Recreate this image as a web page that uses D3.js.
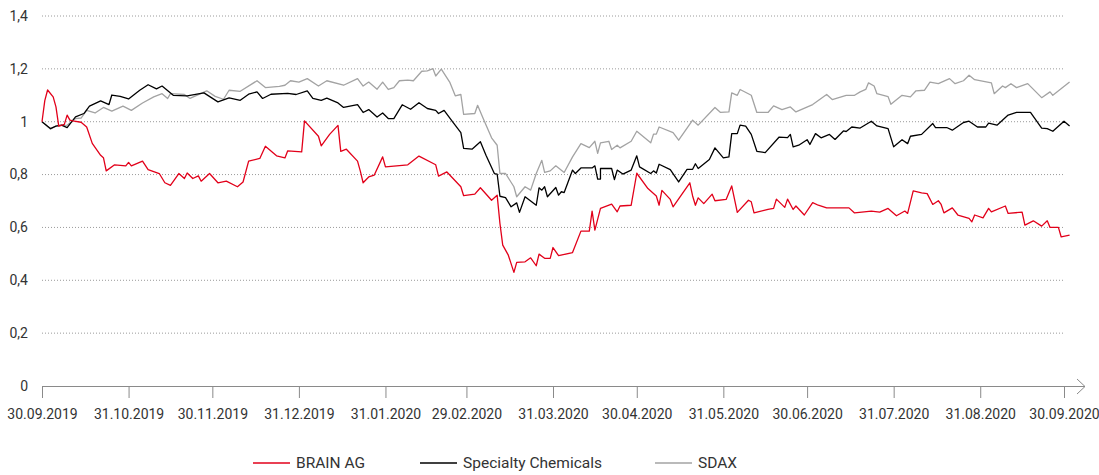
<!DOCTYPE html>
<html>
<head>
<meta charset="utf-8">
<script src="https://cdn.jsdelivr.net/npm/d3@7"></script>
<style>
  body { margin: 0; background: #fff; }
  svg { display: block; font-family: Roboto, "Noto Sans", sans-serif; }
</style>
</head>
<body>
<div id="chart"></div>
<script>
// values: [days since 30.09.2019, index value]
const brainAG = [
  [0,1.00],[1,1.08],[2,1.12],[4,1.094],[5,1.056],[6,0.983],[8,0.99],[9,1.025],[10,1.006],[11,1.003],
  [14,0.998],[16,0.98],[18,0.918],[21,0.873],[22,0.864],[23,0.814],[26,0.837],[30,0.833],[31,0.846],
  [32,0.833],[36,0.851],[38,0.819],[42,0.804],[44,0.769],[46,0.759],[49,0.804],[51,0.785],[52,0.806],
  [54,0.785],[56,0.795],[57,0.775],[60,0.804],[63,0.769],[66,0.775],[70,0.754],[72,0.772],[74,0.851],
  [78,0.861],[80,0.907],[84,0.871],[87,0.863],[88,0.890],[93,0.886],[94,1.003],[99,0.945],[100,0.909],
  [103,0.952],[106,0.986],[107,0.888],[109,0.896],[113,0.851],[114,0.813],[115,0.769],[117,0.791],
  [119,0.798],[122,0.867],[123,0.829],[131,0.837],[135,0.870],[141,0.837],[142,0.794],[145,0.810],
  [150,0.754],[151,0.720],[155,0.726],[157,0.750],[161,0.703],[163,0.722],[164,0.615],[165,0.533],
  [167,0.495],[169,0.430],[170,0.468],[173,0.470],[175,0.485],[177,0.455],[178,0.499],[180,0.483],
  [182,0.483],[183,0.524],[185,0.493],[190,0.505],[193,0.586],[196,0.586],[197,0.662],[198,0.590],
  [200,0.672],[204,0.688],[206,0.659],[207,0.681],[211,0.684],[213,0.805],[217,0.747],[220,0.719],
  [221,0.684],[222,0.740],[225,0.706],[226,0.678],[232,0.769],[233,0.719],[234,0.684],[235,0.712],
  [237,0.690],[240,0.726],[241,0.701],[245,0.706],[247,0.757],[249,0.657],[253,0.703],[254,0.697],
  [255,0.655],[260,0.668],[262,0.672],[263,0.707],[266,0.676],[267,0.707],[269,0.668],[270,0.681],
  [273,0.647],[276,0.694],[278,0.684],[281,0.674],[289,0.674],[291,0.655],[297,0.662],[300,0.658],
  [303,0.672],[306,0.644],[309,0.662],[310,0.653],[312,0.738],[315,0.731],[317,0.728],[319,0.687],
  [321,0.701],[322,0.687],[323,0.655],[326,0.674],[328,0.647],[332,0.634],[333,0.621],[334,0.647],
  [337,0.636],[339,0.672],[340,0.659],[345,0.681],[346,0.653],[351,0.658],[352,0.609],[355,0.625],
  [358,0.605],[360,0.625],[361,0.600],[364,0.600],[365,0.564],[368,0.571]
];

const specialtyChem = [
  [0,1.00],[3,0.974],[5,0.983],[7,0.987],[9,0.978],[12,1.018],[15,1.031],[17,1.059],[21,1.079],
  [24,1.065],[25,1.101],[28,1.096],[31,1.086],[35,1.119],[38,1.140],[41,1.124],[43,1.135],[47,1.100],
  [52,1.098],[58,1.109],[63,1.075],[67,1.090],[71,1.081],[74,1.104],[77,1.113],[79,1.088],[82,1.104],
  [88,1.107],[91,1.103],[95,1.117],[97,1.088],[100,1.081],[102,1.089],[106,1.071],[108,1.054],
  [113,1.065],[115,1.035],[117,1.046],[120,1.018],[122,1.033],[124,1.012],[126,1.012],[129,1.064],
  [132,1.047],[135,1.072],[138,1.050],[141,1.043],[142,1.031],[144,1.043],[147,1.000],[150,0.959],
  [151,0.899],[154,0.896],[157,0.924],[159,0.873],[162,0.804],[163,0.802],[164,0.718],[166,0.713],
  [168,0.678],[170,0.693],[171,0.657],[173,0.716],[177,0.684],[178,0.750],[179,0.741],[180,0.754],
  [181,0.716],[184,0.751],[185,0.722],[186,0.735],[187,0.732],[190,0.817],[191,0.804],[193,0.825],
  [197,0.825],[198,0.833],[199,0.783],[200,0.783],[200,0.823],[204,0.823],[205,0.781],[206,0.817],
  [208,0.802],[211,0.817],[213,0.871],[214,0.829],[218,0.804],[219,0.814],[220,0.806],[221,0.839],
  [225,0.819],[228,0.772],[231,0.820],[233,0.820],[234,0.841],[235,0.823],[239,0.857],[241,0.901],
  [244,0.863],[246,0.867],[247,0.955],[249,0.955],[250,0.987],[252,0.983],[254,0.952],[256,0.888],
  [259,0.883],[264,0.942],[267,0.940],[268,0.952],[269,0.905],[271,0.911],[274,0.932],[275,0.914],
  [277,0.955],[279,0.939],[282,0.952],[284,0.933],[287,0.965],[288,0.963],[290,0.980],[293,0.976],
  [297,1.002],[299,0.984],[303,0.974],[305,0.905],[308,0.932],[310,0.917],[311,0.945],[315,0.952],
  [319,0.993],[320,0.978],[324,0.978],[326,0.968],[330,0.997],[332,1.002],[335,0.980],[338,0.980],
  [339,0.995],[342,0.987],[346,1.025],[349,1.035],[354,1.035],[358,0.976],[360,0.974],[362,0.964],
  [366,1.002],[368,0.984]
];

const sdax = [
  [0,1.00],[3,0.972],[5,0.984],[9,0.987],[12,1.012],[14,1.014],[16,1.043],[19,1.033],[22,1.054],
  [25,1.040],[29,1.059],[32,1.043],[36,1.071],[40,1.094],[43,1.106],[45,1.088],[46,1.106],[51,1.103],
  [53,1.088],[55,1.098],[59,1.117],[62,1.096],[65,1.085],[67,1.119],[71,1.115],[77,1.155],[80,1.129],
  [85,1.134],[87,1.138],[89,1.155],[92,1.150],[95,1.163],[99,1.135],[102,1.155],[108,1.138],
  [113,1.163],[115,1.135],[117,1.150],[120,1.123],[122,1.150],[124,1.122],[126,1.129],[128,1.155],
  [131,1.157],[133,1.155],[136,1.191],[138,1.192],[140,1.201],[141,1.173],[143,1.199],[146,1.150],
  [148,1.098],[150,1.103],[151,1.028],[155,1.031],[156,1.062],[158,1.012],[161,0.939],[163,0.911],
  [164,0.804],[166,0.804],[169,0.754],[170,0.716],[173,0.754],[175,0.741],[177,0.804],[179,0.854],
  [180,0.808],[182,0.814],[184,0.833],[187,0.808],[190,0.867],[193,0.917],[196,0.902],[198,0.926],
  [199,0.880],[200,0.920],[203,0.926],[204,0.895],[206,0.911],[207,0.901],[211,0.926],[213,0.964],
  [218,0.920],[219,0.953],[220,0.953],[221,0.980],[226,0.959],[228,0.930],[233,1.006],[235,0.987],
  [241,1.054],[243,1.035],[246,1.037],[247,1.109],[249,1.100],[250,1.122],[254,1.100],[256,1.035],
  [260,1.035],[262,1.060],[265,1.046],[268,1.056],[270,1.037],[276,1.065],[281,1.103],[283,1.084],
  [288,1.100],[291,1.100],[293,1.113],[295,1.122],[296,1.147],[298,1.135],[299,1.106],[303,1.095],
  [304,1.066],[308,1.100],[311,1.094],[313,1.117],[316,1.119],[318,1.150],[321,1.144],[325,1.163],
  [327,1.144],[330,1.155],[332,1.176],[334,1.159],[340,1.147],[341,1.106],[344,1.135],[345,1.129],
  [347,1.144],[349,1.129],[353,1.144],[358,1.091],[361,1.113],[362,1.100],[368,1.150]
];

const seriesNames = ["BRAIN AG", "Specialty Chemicals", "SDAX"];
const seriesColors = ["#e2001a", "#000000", "#a3a3a3"];
const yTicks = [0, 0.2, 0.4, 0.6, 0.8, 1, 1.2, 1.4];
const xTickLabels = ["30.09.2019", "31.10.2019", "30.11.2019", "31.12.2019", "31.01.2020", "29.02.2020",
  "31.03.2020", "30.04.2020", "31.05.2020", "30.06.2020", "31.07.2020", "31.08.2020", "30.09.2020"];

const width = 1099, height = 475;
const parse = d3.timeParse("%d.%m.%Y");
const start = parse(xTickLabels[0]);
const end = parse(xTickLabels[xTickLabels.length - 1]);

const de = d3.formatLocale({ decimal: ",", thousands: ".", grouping: [3], currency: ["", " €"] });
const fmtY = de.format(".2~f");

const x = d3.scaleTime().domain([start, end]).range([42, 1064]);
const y = d3.scaleLinear().domain([0, 1.4]).range([386, 16]);

const svg = d3.select("#chart").append("svg")
  .attr("width", width)
  .attr("height", height);

// dotted grid + y labels
const grid = svg.append("g");
grid.selectAll("line")
  .data(yTicks.filter(d => d > 0))
  .join("line")
  .attr("x1", 42).attr("x2", 1064)
  .attr("y1", d => y(d)).attr("y2", d => y(d))
  .attr("stroke", "#9a9a9a")
  .attr("stroke-width", 1)
  .attr("stroke-dasharray", "1,2");

grid.selectAll("text")
  .data(yTicks)
  .join("text")
  .attr("x", 28)
  .attr("y", d => y(d))
  .attr("dy", "0.35em")
  .attr("text-anchor", "end")
  .attr("font-size", 14)
  .attr("fill", "#333")
  .text(d => fmtY(d));

// x axis
const xAxis = d3.axisBottom(x)
  .tickValues(xTickLabels.map(parse))
  .tickFormat(d3.timeFormat("%d.%m.%Y"))
  .tickSize(12)
  .tickPadding(11);

const gx = svg.append("g")
  .attr("transform", `translate(0,${y(0)})`)
  .call(xAxis);
gx.select(".domain").remove();
gx.selectAll(".tick line").attr("stroke", "#8a8a8a");
gx.selectAll(".tick text")
  .attr("font-size", 14)
  .attr("font-family", "Roboto, sans-serif")
  .attr("fill", "#333");

gx.append("line")
  .attr("x1", 42).attr("x2", 1085)
  .attr("y1", 0.5).attr("y2", 0.5)
  .attr("stroke", "#8a8a8a");
gx.append("path")
  .attr("d", "M1077,-7L1085,0.5L1077,8")
  .attr("fill", "none")
  .attr("stroke", "#8a8a8a");

// lines
const line = d3.line()
  .x(d => x(d3.timeDay.offset(start, d[0])))
  .y(d => y(d[1]));

const allSeries = [sdax, specialtyChem, brainAG];
const order = [2, 1, 0];
svg.append("g")
  .selectAll("path")
  .data(allSeries)
  .join("path")
  .attr("d", line)
  .attr("fill", "none")
  .attr("stroke", (d, i) => seriesColors[order[i]])
  .attr("stroke-width", 1.3)
  .attr("stroke-linejoin", "round");

// legend
const legendX = [253, 420, 655];
const legend = svg.append("g").attr("transform", "translate(0,463)");
const items = legend.selectAll("g")
  .data(seriesNames)
  .join("g")
  .attr("transform", (d, i) => `translate(${legendX[i]},0)`);
items.append("line")
  .attr("x1", 0).attr("x2", 37)
  .attr("stroke", (d, i) => seriesColors[i])
  .attr("stroke-width", 1.3);
items.append("text")
  .attr("x", 43)
  .attr("dy", "0.35em")
  .attr("font-size", 15.5)
  .attr("fill", "#333")
  .text(d => d);
</script>
</body>
</html>
